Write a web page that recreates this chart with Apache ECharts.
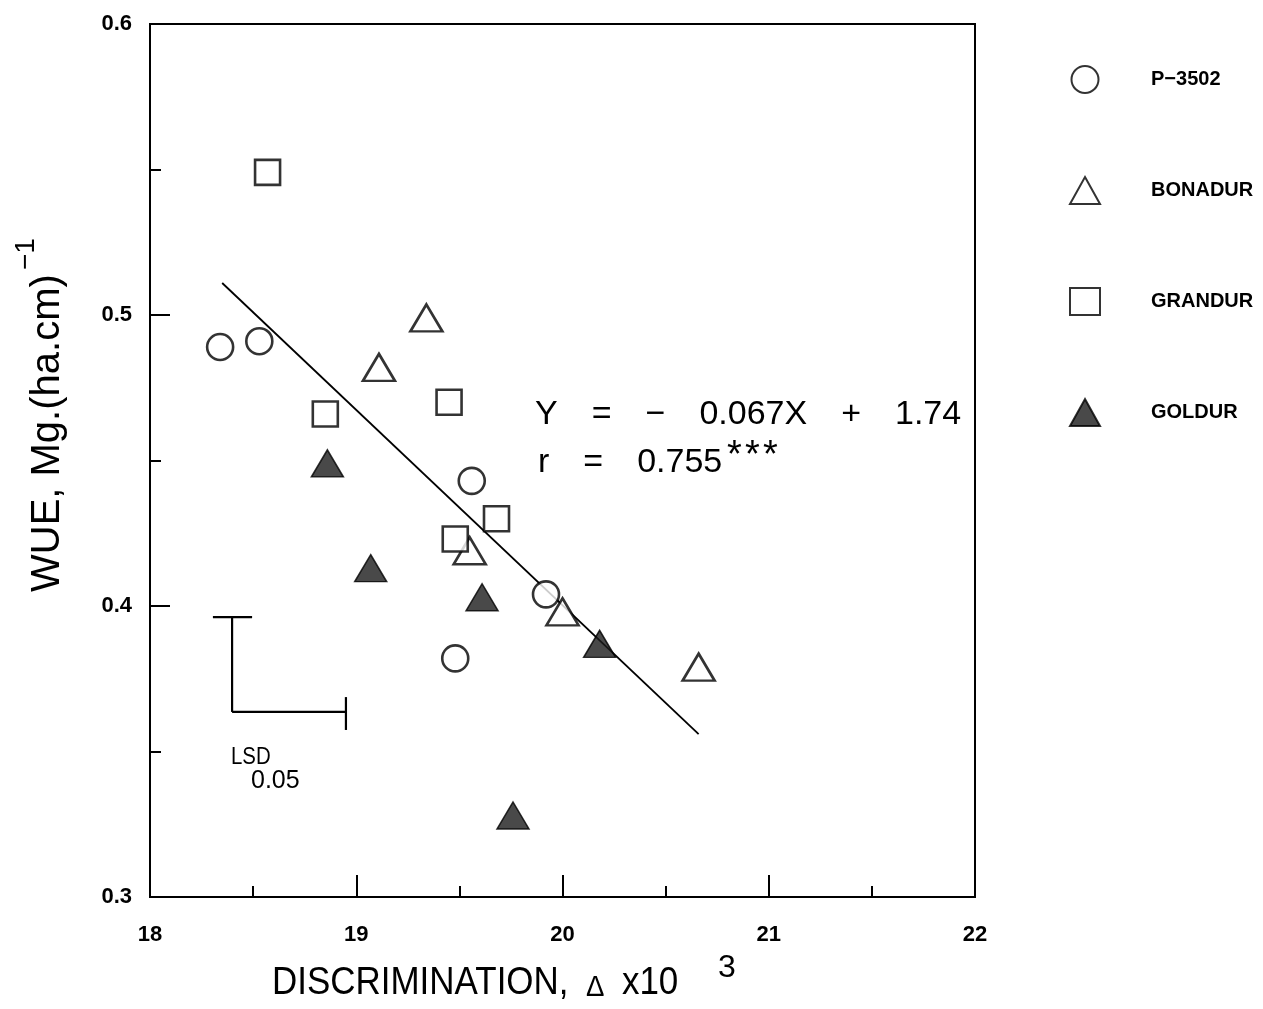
<!DOCTYPE html>
<html>
<head>
<meta charset="utf-8">
<script src="https://cdn.jsdelivr.net/npm/echarts@6/dist/echarts.min.js"></script>
<style>
html, body { margin: 0; background: #fff; }
#main { width: 1263px; height: 1009px; }
</style>
</head>
<body>
<div id="main"></div>
<script>
// values: [discrimination x10^3, WUE]
var p3502 = [[18.34, 0.489], [18.53, 0.491], [19.56, 0.443], [19.92, 0.404], [19.48, 0.382]];
var bonadur = [[19.34, 0.499], [19.11, 0.482], [19.55, 0.419], [20.00, 0.398], [20.66, 0.379]];
var grandur = [[18.57, 0.549], [18.85, 0.466], [19.45, 0.470], [19.68, 0.430], [19.48, 0.423]];
var goldur = [[18.86, 0.449], [19.07, 0.413], [19.61, 0.403], [20.18, 0.387], [19.76, 0.328]];
var fitLine = [[18.35, 0.511], [20.66, 0.356]];   // Y = -0.067X + 1.74

// LSD 0.05 bracket
var lsdVert = [[18.398, 0.3962], [18.398, 0.3636]];
var lsdVertCap = [[18.305, 0.3962], [18.495, 0.3962]];
var lsdHoriz = [[18.398, 0.3636], [18.95, 0.3636]];
var lsdHorizCap = [[18.95, 0.3687], [18.95, 0.3574]];

var seriesNames = ['P\u22123502', 'BONADUR', 'GRANDUR', 'GOLDUR'];

var chart = echarts.init(document.getElementById('main'));

var openStyle = { color: '#fff', borderColor: '#000', borderWidth: 2.6 };
var blk = { color: '#000', width: 2 };
var FONT = '"Liberation Sans"';

function seg(data, w) {
  return {
    type: 'line', data: data, symbol: 'none', silent: true, z: 3,
    lineStyle: { color: '#000', width: w || 2.2 }
  };
}

var option = {
  animation: false,
  backgroundColor: '#fff',
  grid: {
    left: 150, right: 288, top: 24, bottom: 112,
    show: true, borderColor: '#000', borderWidth: 2, backgroundColor: 'transparent'
  },
  legend: {
    data: seriesNames,
    orient: 'vertical',
    left: 1064, top: 60,
    itemWidth: 30, itemHeight: 27, itemGap: 82,
    textStyle: {
      fontFamily: 'Liberation Sans', fontWeight: 'bold', fontSize: 20, color: '#000',
      padding: [0, 0, 0, 46]
    }
  },
  xAxis: {
    type: 'value', min: 18, max: 22, interval: 1,
    axisLine: { lineStyle: blk },
    axisTick: { inside: true, length: 22, lineStyle: blk },
    minorTick: { show: true, splitNumber: 2, length: 11, lineStyle: { color: '#000', width: 2 } },
    splitLine: { show: false },
    axisLabel: { margin: 27, color: '#000', fontFamily: 'Liberation Sans', fontWeight: 'bold', fontSize: 22 }
  },
  yAxis: {
    type: 'value', min: 0.3, max: 0.6, interval: 0.1,
    axisLine: { show: true, lineStyle: blk },
    axisTick: { show: true, inside: true, length: 20, lineStyle: blk },
    minorTick: { show: true, splitNumber: 2, length: 11, lineStyle: { color: '#000', width: 2 } },
    splitLine: { show: false },
    axisLabel: { margin: 18, color: '#000', fontFamily: 'Liberation Sans', fontWeight: 'bold', fontSize: 22,
      formatter: function (v) { return v.toFixed(1); } }
  },
  series: [
    { name: seriesNames[0], type: 'scatter', data: p3502, symbol: 'circle', symbolSize: 26, itemStyle: openStyle, z: 5 },
    { name: seriesNames[1], type: 'scatter', data: bonadur, symbol: 'triangle', symbolSize: [32, 27], itemStyle: openStyle, z: 5 },
    { name: seriesNames[2], type: 'scatter', data: grandur, symbol: 'rect', symbolSize: 25, itemStyle: openStyle, z: 5 },
    { name: seriesNames[3], type: 'scatter', data: goldur, symbol: 'triangle', symbolSize: [32, 27],
      itemStyle: { color: '#1c1c1c', borderColor: '#000', borderWidth: 1.5 }, z: 5 },
    seg(fitLine, 1.8),
    seg(lsdVert), seg(lsdVertCap), seg(lsdHoriz), seg(lsdHorizCap)
  ],
  graphic: [
    {
      type: 'text', left: 535, top: 398,
      style: {
        text: 'Y\u2002\u2002=\u2002\u2002\u2212\u2002\u20020.067X\u2002\u2002+\u2002\u20021.74',
        font: '34px ' + FONT, fill: '#000'
      }
    },
    {
      type: 'text', left: 538, top: 446,
      style: { text: 'r\u2002\u2002=\u2002\u20020.755', font: '34px ' + FONT, fill: '#000' }
    },
    {
      type: 'text', left: 727, top: 438,
      style: { text: '*\u200A*\u200A*', font: '38px ' + FONT, fill: '#000' }
    },
    {
      type: 'text', x: 231, y: 745, scaleX: 0.85,
      style: { text: 'LSD', font: '24px ' + FONT, fill: '#000' }
    },
    {
      type: 'text', left: 251, top: 769,
      style: { text: '0.05', font: '25px ' + FONT, fill: '#000' }
    },
    {
      type: 'text', x: 272, y: 984, scaleX: 0.92,
      style: {
        text: '{a|DISCRIMINATION,\u2002}{d|\u0394}{a|\u2002x10}',
        textAlign: 'left', textVerticalAlign: 'middle',
        rich: {
          a: { font: '38px ' + FONT, fill: '#000', verticalAlign: 'bottom' },
          d: { font: '30px ' + FONT, fill: '#000', verticalAlign: 'bottom' }
        }
      }
    },
    {
      type: 'text', x: 718, y: 952,
      style: { text: '3', font: '32px ' + FONT, fill: '#000' }
    },
    {
      type: 'text', x: 48, y: 592, rotation: Math.PI / 2,
      style: {
        text: 'WUE, Mg.(ha.cm)', font: '40px ' + FONT, fill: '#000',
        textAlign: 'left', textVerticalAlign: 'middle'
      }
    },
    {
      type: 'text', x: 26, y: 270, rotation: Math.PI / 2,
      style: {
        text: '\u22121', font: '28px ' + FONT, fill: '#000',
        textAlign: 'left', textVerticalAlign: 'middle'
      }
    }
  ]
};

chart.setOption(option);
</script>
</body>
</html>
